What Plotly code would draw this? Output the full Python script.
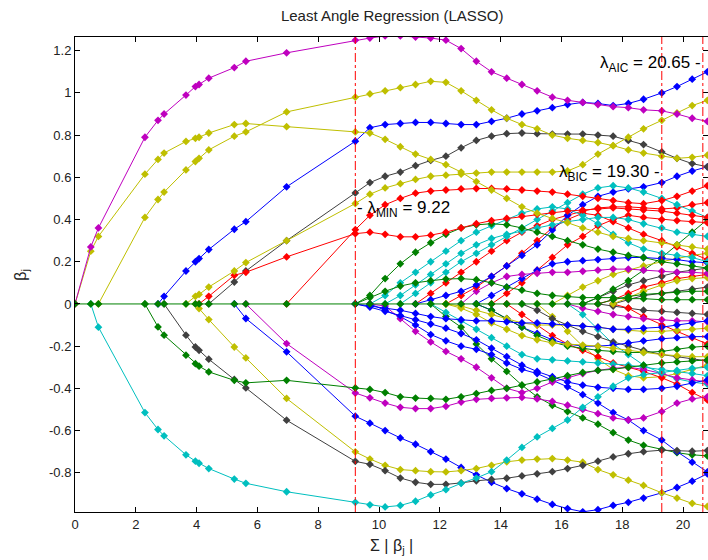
import plotly.graph_objects as go

# knot positions (sum |beta|)
KNOTS = [0, 0.52, 0.77, 2.3, 2.73, 2.93, 3.65, 3.96, 4.08, 4.4, 5.24, 5.62, 6.96,
         9.22, 9.7, 10.2, 10.7, 11.2, 11.7, 12.2, 12.7, 13.2, 13.7, 14.2, 14.7,
         15.2, 15.7, 16.2, 16.7, 17.2, 17.7, 18.2, 18.7, 19.3, 19.8, 20.3, 20.8]

BLUE = "#0000FF"; GREEN = "#008000"; RED = "#FF0000"; CYAN = "#00BFBF"
MAGENTA = "#BF00BF"; YELLOW = "#BFBF00"; GRAY = "#404040"

# coefficient paths: values start at the knot where the variable enters
magenta1 = [0, 0.27, 0.36, 0.79, 0.87, 0.90, 0.99, 1.03, 1.04, 1.07, 1.12, 1.15, 1.19,
            1.25, 1.26, 1.27, 1.27, 1.265, 1.26, 1.25, 1.21, 1.15, 1.10, 1.07, 1.04, 1.01,
            0.98, 0.965, 0.955, 0.945, 0.935, 0.93, 0.92, 0.915, 0.9, 0.88, 0.865]
yellow1 = [0, 0.25, 0.32, 0.615, 0.685, 0.715, 0.77, 0.785, 0.79, 0.81, 0.85, 0.855, 0.84,
           0.815, 0.81, 0.78, 0.745, 0.71, 0.685, 0.66, 0.625, 0.58, 0.54, 0.5, 0.46, 0.43,
           0.405, 0.385, 0.36, 0.34, 0.32, 0.31, 0.3, 0.29, 0.28, 0.27, 0.26]
yellow2 = [0, 0.41, 0.495, 0.53, 0.635, 0.675, 0.69, 0.73, 0.795, 0.815, 0.91,
           0.98, 0.995, 1.01, 1.025, 1.04, 1.055, 1.05, 1.01, 0.965, 0.92, 0.88, 0.85,
           0.83, 0.8, 0.785, 0.775, 0.765, 0.75, 0.73, 0.715, 0.7, 0.69, 0.695, 0.705]
blue1 = [0, 0.036, 0.156, 0.2, 0.215, 0.258, 0.354, 0.39, 0.555,
         0.771, 0.835, 0.85, 0.855, 0.86, 0.86, 0.855, 0.85, 0.85, 0.865, 0.88, 0.9,
         0.915, 0.93, 0.945, 0.955, 0.95, 0.94, 0.95, 0.97, 1.0, 1.03, 1.065, 1.1]
gray1 = [0, 0.104, 0.156, 0.30,
         0.526, 0.575, 0.605, 0.625, 0.655, 0.68, 0.7, 0.74, 0.775, 0.795, 0.807, 0.81,
         0.807, 0.805, 0.805, 0.805, 0.8, 0.795, 0.775, 0.755, 0.72, 0.69, 0.665, 0.65]
yellow3 = [0, 0.036, 0.045, 0.08, 0.156, 0.196, 0.30,
           0.476, 0.52, 0.55, 0.57, 0.59, 0.605, 0.61, 0.615, 0.62, 0.625, 0.625, 0.625,
           0.625, 0.625, 0.63, 0.66, 0.71, 0.75, 0.79, 0.83, 0.87, 0.905, 0.94, 0.965]
red2 = [0, 0.036, 0.136, 0.15, 0.223,
        0.333, 0.34, 0.33, 0.318, 0.318, 0.326, 0.34, 0.36, 0.38, 0.395, 0.405, 0.415,
        0.425, 0.432, 0.44, 0.445, 0.45, 0.455, 0.45, 0.445, 0.44, 0.43, 0.42, 0.41]
red1 = [0,
        0.352, 0.42, 0.47, 0.5, 0.525, 0.535, 0.54, 0.545, 0.547, 0.547, 0.545, 0.54,
        0.535, 0.53, 0.52, 0.51, 0.5, 0.49, 0.48, 0.475, 0.49, 0.51, 0.535, 0.56]
cyan1 = [0, -0.11, -0.515, -0.595, -0.625, -0.715, -0.745, -0.755, -0.78, -0.83, -0.85, -0.89,
         -0.94, -0.952, -0.962, -0.955, -0.935, -0.905, -0.88, -0.85, -0.825, -0.795, -0.74,
         -0.68, -0.63, -0.59, -0.55, -0.49, -0.44, -0.39, -0.35, -0.335, -0.325, -0.315,
         -0.305, -0.3]
green1 = [0, -0.109, -0.148, -0.243, -0.283, -0.295, -0.322, -0.362, -0.374, -0.362,
          -0.398, -0.405, -0.42, -0.44, -0.446, -0.448, -0.452, -0.44, -0.425, -0.41, -0.4,
          -0.385, -0.37, -0.355, -0.34, -0.325, -0.315, -0.31, -0.3, -0.29, -0.28, -0.275,
          -0.27, -0.265]
gray2 = [0, -0.148, -0.204, -0.22, -0.262, -0.358, -0.398, -0.551,
         -0.746, -0.76, -0.79, -0.825, -0.845, -0.855, -0.855, -0.848, -0.838, -0.832,
         -0.826, -0.815, -0.805, -0.795, -0.78, -0.765, -0.745, -0.725, -0.71, -0.7,
         -0.693, -0.695, -0.698, -0.695]
yellow4 = [0, -0.022, -0.074, -0.204, -0.256, -0.448,
           -0.701, -0.735, -0.765, -0.785, -0.79, -0.795, -0.796, -0.79, -0.78, -0.765,
           -0.748, -0.74, -0.735, -0.733, -0.74, -0.75, -0.785, -0.81, -0.835, -0.86,
           -0.895, -0.92, -0.945, -0.96]
blue2 = [0, -0.069, -0.227,
         -0.532, -0.565, -0.6, -0.635, -0.665, -0.7, -0.735, -0.775, -0.81, -0.845, -0.875,
         -0.9, -0.925, -0.95, -0.97, -0.985, -0.975, -0.955, -0.94, -0.92, -0.895, -0.87,
         -0.84, -0.805]
magenta2 = [0, -0.188,
            -0.422, -0.445, -0.47, -0.49, -0.496, -0.496, -0.485, -0.465, -0.452, -0.448,
            -0.445, -0.443, -0.45, -0.462, -0.48, -0.5, -0.52, -0.54, -0.55, -0.54, -0.51,
            -0.47, -0.45, -0.44]
green3 = [0, 0.04, 0.12, 0.19, 0.245, 0.29, 0.33, 0.36, 0.375, 0.38, 0.375, 0.36, 0.34,
          0.32, 0.3, 0.28, 0.26, 0.245, 0.23, 0.22, 0.2, 0.19, 0.18, 0.17]
green6 = [0, 0.03, 0.06, 0.085, 0.1, 0.11, 0.118, 0.12, 0.115, 0.1, 0.08, 0.065, 0.05,
          0.04, 0.035, 0.03, 0.03, 0.03, 0.025, 0.025, 0.02, 0.02, 0.02, 0.02]
blue3 = [0, -0.015, -0.035, -0.055, -0.075, -0.095, -0.115, -0.14, -0.17, -0.21, -0.25,
         -0.29, -0.32, -0.345, -0.37, -0.385, -0.395, -0.4, -0.405, -0.405, -0.4, -0.39,
         -0.375, -0.36]
blue8 = [0, -0.01, -0.02, -0.03, -0.045, -0.06, -0.07, -0.075, -0.08, -0.08, -0.085, -0.09,
         -0.09, -0.095, -0.1, -0.105, -0.11, -0.12, -0.12, -0.115, -0.11, -0.1, -0.09, -0.08]
cyan2 = [0, 0.04, 0.1, 0.15, 0.2, 0.25, 0.3, 0.34, 0.37, 0.4, 0.43, 0.45, 0.46, 0.45, 0.42,
         0.38, 0.33, 0.29, 0.26, 0.24, 0.23, 0.22, 0.2]
blue4 = [0, -0.03, -0.06, -0.1, -0.145, -0.175, -0.2, -0.215, -0.24, -0.28, -0.31, -0.33,
         -0.36, -0.393, -0.43, -0.47, -0.515, -0.55, -0.6, -0.645, -0.7, -0.75, -0.796]
magenta4 = [0, -0.01, -0.07, -0.13, -0.18, -0.225, -0.26, -0.3, -0.35, -0.4, -0.42, -0.4,
            -0.37, -0.35, -0.33, -0.315, -0.305, -0.3, -0.31, -0.33, -0.35, -0.36, -0.37]
cyan3 = [0, 0.04, 0.09, 0.14, 0.19, 0.24, 0.28, 0.31, 0.33, 0.345, 0.36, 0.375, 0.39, 0.4,
         0.41, 0.41, 0.4, 0.38, 0.36, 0.34, 0.33, 0.32]
cyan4 = [0, 0.05, 0.1, 0.15, 0.2, 0.24, 0.28, 0.32, 0.36, 0.4, 0.44, 0.48, 0.52, 0.55, 0.56,
         0.55, 0.53, 0.5, 0.47, 0.44, 0.41]
red3 = [0, 0.05, 0.1, 0.15, 0.2, 0.25, 0.3, 0.34, 0.37, 0.4, 0.42, 0.44, 0.455, 0.46, 0.46,
        0.455, 0.45, 0.455, 0.47, 0.48]
blue5 = [0, 0.02, 0.04, 0.06, 0.09, 0.13, 0.18, 0.23, 0.28, 0.35, 0.42, 0.47, 0.51, 0.53,
         0.545, 0.555, 0.575, 0.605, 0.63, 0.65]
green2 = [0, -0.06, -0.11, -0.19, -0.26, -0.32, -0.385, -0.44, -0.48, -0.51, -0.54, -0.57,
          -0.61, -0.645, -0.67, -0.69, -0.705, -0.715, -0.72]
cyan5 = [0, -0.04, -0.08, -0.12, -0.16, -0.2, -0.24, -0.26, -0.265, -0.27, -0.275, -0.28,
         -0.285, -0.29, -0.3, -0.31, -0.32, -0.33, -0.34]
red4 = [0, 0.04, 0.08, 0.13, 0.18, 0.24, 0.3, 0.36, 0.4, 0.43, 0.42, 0.39, 0.36, 0.33, 0.3,
        0.27, 0.24, 0.21]
yellow6 = [0, -0.02, -0.05, -0.09, -0.12, -0.15, -0.17, -0.185, -0.19, -0.195, -0.2, -0.21,
           -0.22, -0.23, -0.24, -0.245, -0.25, -0.25]
yellow7 = [0, -0.01, -0.03, -0.05, -0.07, -0.09, -0.1, -0.1, -0.1, -0.105, -0.11, -0.12,
           -0.125, -0.13, -0.13, -0.125, -0.12, -0.115]
magenta3 = [0, 0.06, 0.1, 0.13, 0.14, 0.145, 0.15, 0.15, 0.155, 0.16, 0.165, 0.165, 0.16,
            0.155, 0.15, 0.15, 0.145]
blue6 = [0, 0.04, 0.08, 0.12, 0.16, 0.19, 0.2, 0.205, 0.21, 0.215, 0.22, 0.22, 0.215, 0.21,
         0.2, 0.195]
blue7 = [0, -0.03, -0.07, -0.11, -0.14, -0.17, -0.19, -0.2, -0.2, -0.195, -0.185, -0.175,
         -0.165, -0.16, -0.155, -0.155]
green4 = [0, -0.03, -0.07, -0.11, -0.15, -0.18, -0.2, -0.21, -0.22, -0.225, -0.23, -0.23,
          -0.225, -0.215, -0.205, -0.2]
red5 = [0, 0.05, 0.1, 0.16, 0.22, 0.28, 0.32, 0.37, 0.4, 0.42, 0.41, 0.4, 0.395, 0.39, 0.385]
red6 = [0, -0.05, -0.1, -0.15, -0.19, -0.22, -0.25, -0.28, -0.3, -0.32, -0.35, -0.38, -0.42,
        -0.455]
gray4 = [0, -0.03, -0.07, -0.1, -0.13, -0.155, -0.18, -0.2, -0.22, -0.24, -0.25, -0.26, -0.27]
yellow8 = [0, -0.06, -0.13, -0.2, -0.26, -0.31, -0.34, -0.35, -0.345, -0.33, -0.31, -0.29]
yellow5 = [0, 0.04, 0.08, 0.11, 0.14, 0.16, 0.18, 0.2, 0.215, 0.23, 0.24]
cyan6 = [0, -0.05, -0.12, -0.19, -0.24, -0.29, -0.33, -0.355, -0.37, -0.38]
magenta5 = [0, -0.02, -0.035, -0.05, -0.06, -0.07, -0.075, -0.08, -0.08, -0.085]
gray3 = [0, 0.03, 0.06, 0.09, 0.11, 0.13, 0.15, 0.16, 0.17]
green5 = [0, 0.03, 0.07, 0.11, 0.16, 0.22, 0.28, 0.34, 0.4]
red9 = [0, 0.02, 0.05, 0.08, 0.1, 0.12, 0.13, 0.14]
gray6 = [0, -0.01, -0.02, -0.03, -0.035, -0.04, -0.045, -0.05]
red7 = [0, -0.02, -0.06, -0.1, -0.13, -0.16, -0.19]
gray5 = [0, 0.02, 0.04, 0.05, 0.06, 0.07, 0.08]
yellow9 = [0, 0.03, 0.06, 0.09, 0.11, 0.12, 0.125]
green_zero = [0, 0, 0, 0, 0, 0, 0, 0, 0, 0, 0, 0, 0, 0, 0, 0, 0, 0, 0, 0, 0, 0, 0, 0, 0,
              0, 0, 0, 0, 0, 0.02, 0.035, 0.045, 0.05, 0.055, 0.06, 0.06]

# (values, colour, index of entry knot)
PATHS = [
    (red9, RED, 29), (gray6, GRAY, 29), (red7, RED, 30), (gray5, GRAY, 30),
    (yellow9, YELLOW, 30), (gray3, GRAY, 28), (green5, GREEN, 28), (cyan6, CYAN, 27),
    (magenta5, MAGENTA, 27), (yellow5, YELLOW, 26), (yellow8, YELLOW, 25),
    (gray4, GRAY, 24), (red6, RED, 23), (red5, RED, 22), (blue6, BLUE, 21),
    (blue7, BLUE, 21), (green4, GREEN, 21), (magenta3, MAGENTA, 20), (red4, RED, 19),
    (yellow6, YELLOW, 19), (yellow7, YELLOW, 19), (green2, GREEN, 18), (cyan5, CYAN, 18),
    (red3, RED, 17), (blue5, BLUE, 17), (cyan4, CYAN, 16), (cyan3, CYAN, 15),
    (cyan2, CYAN, 14), (blue4, BLUE, 14), (magenta4, MAGENTA, 14), (green3, GREEN, 13),
    (green6, GREEN, 13), (blue3, BLUE, 13), (blue8, BLUE, 13),
    (red1, RED, 12), (magenta2, MAGENTA, 11), (blue2, BLUE, 10), (gray1, GRAY, 9),
    (red2, RED, 8), (yellow4, YELLOW, 7), (yellow3, YELLOW, 6), (gray2, GRAY, 5),
    (blue1, BLUE, 4), (green1, GREEN, 3), (yellow2, YELLOW, 2), (cyan1, CYAN, 1),
    (yellow1, YELLOW, 0), (magenta1, MAGENTA, 0), (green_zero, GREEN, 0),
]

LAMBDA_MIN = 9.22
LAMBDA_BIC = 19.30
LAMBDA_AIC = 20.65

FONT = "Liberation Sans, Arial, Helvetica, sans-serif"

fig = go.Figure()
for vals, col, e in PATHS:
    xs = KNOTS[e:e + len(vals)]
    fig.add_trace(go.Scatter(
        x=xs, y=vals, mode="lines+markers",
        line=dict(color=col, width=1),
        marker=dict(color=col, size=6, symbol="diamond"),
        showlegend=False, hoverinfo="skip"))

for xv in (LAMBDA_MIN, LAMBDA_BIC, LAMBDA_AIC):
    fig.add_shape(type="line", x0=xv, x1=xv, xref="x", y0=0, y1=1, yref="paper",
                  line=dict(color="#FF0000", width=1, dash="dashdot"))

fig.add_annotation(x=LAMBDA_MIN, y=0.45, xanchor="left", yanchor="middle",
                   text="- λ<sub>MIN</sub> = 9.22", showarrow=False,
                   font=dict(family=FONT, size=17, color="black"))
fig.add_annotation(x=LAMBDA_BIC, y=0.62, xanchor="right", yanchor="middle",
                   text="λ<sub>BIC</sub> = 19.30 -", showarrow=False,
                   font=dict(family=FONT, size=17, color="black"))
fig.add_annotation(x=LAMBDA_AIC, y=1.135, xanchor="right", yanchor="middle",
                   text="λ<sub>AIC</sub> = 20.65 -", showarrow=False,
                   font=dict(family=FONT, size=17, color="black"))

# axis titles
fig.add_annotation(x=0.5, y=-0.072, xref="paper", yref="paper", xanchor="center",
                   yanchor="middle", text="Σ | β<sub>j</sub> |", showarrow=False,
                   font=dict(family=FONT, size=16, color="#222"))
fig.add_annotation(x=-0.085, y=0.5, xref="paper", yref="paper", xanchor="center",
                   yanchor="middle", text="β<sub>j</sub>", showarrow=False, textangle=-90,
                   font=dict(family=FONT, size=16, color="#222"))

axis_common = dict(showline=True, linecolor="black", linewidth=1, mirror="ticks",
                   ticks="inside", ticklen=5, tickcolor="black", showgrid=False,
                   zeroline=False, automargin=False,
                   tickfont=dict(family=FONT, size=13, color="#222"))

fig.update_layout(
    width=708, height=560,
    margin=dict(l=75, r=0, t=37, b=48),
    paper_bgcolor="white", plot_bgcolor="white",
    title=dict(text="Least Angle Regression (LASSO)", x=0.554, xanchor="center",
               y=0.9714, yanchor="middle",
               font=dict(family=FONT, size=15, color="#222")),
    xaxis=dict(range=[0, 20.82], tickvals=[0, 2, 4, 6, 8, 10, 12, 14, 16, 18, 20],
               **axis_common),
    yaxis=dict(range=[-0.986, 1.265],
               tickvals=[-0.8, -0.6, -0.4, -0.2, 0, 0.2, 0.4, 0.6, 0.8, 1, 1.2],
               ticktext=["-0.8", "-0.6", "-0.4", "-0.2", "0", "0.2", "0.4", "0.6", "0.8",
                         "1", "1.2"],
               **axis_common),
)

fig.write_html("out.html", config={"displayModeBar": False},
               post_script="document.body.style.margin='0';document.body.style.overflow='hidden';")
